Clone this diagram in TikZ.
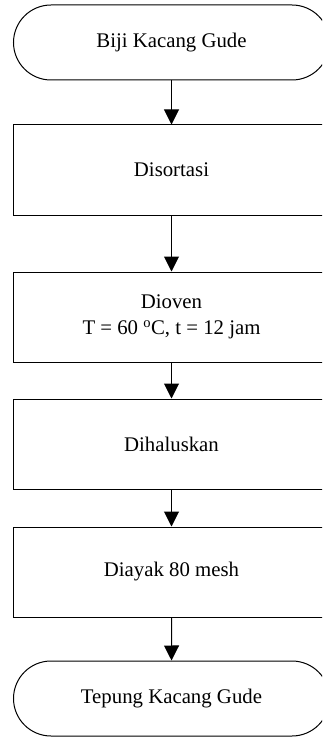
\documentclass[tikz,border=0pt]{standalone}
\usepackage{fontspec}
\setmainfont{Liberation Serif}
\usetikzlibrary{shapes.misc,arrows.meta}
\tikzset{
  base/.style={draw=black,line width=1pt,font=\fontsize{20.8}{26}\selectfont,align=center,inner sep=0pt,minimum width=316pt},
  stepbox/.style={base,rectangle,minimum height=90pt},
  term/.style={base,rounded rectangle,minimum height=75pt},
  flow/.style={line width=1pt,-{Triangle[length=15pt,width=15pt]}}
}
\begin{document}
\begin{tikzpicture}[x=1pt,y=-1pt]
\path[use as bounding box,clip] (0,0) rectangle (322,738);
\node[term] (t1) at (171.5,42.5) {Biji Kacang Gude};
\node[stepbox] (r1) at (171.5,170) {Disortasi};
\node[stepbox] (r2) at (171.5,317) {Dioven\\T = 60 \textsuperscript{o}C, t = 12 jam};
\node[stepbox] (r3) at (171.5,444) {Dihaluskan};
\node[stepbox] (r4) at (171.5,572) {Diayak 80 mesh};
\node[term] (t2) at (171.5,698.5) {Tepung Kacang Gude};
\draw[flow] (t1) -- (r1);
\draw[flow] (r1) -- (r2);
\draw[flow] (r2) -- (r3);
\draw[flow] (r3) -- (r4);
\draw[flow] (r4) -- (t2);
\end{tikzpicture}
\end{document}
